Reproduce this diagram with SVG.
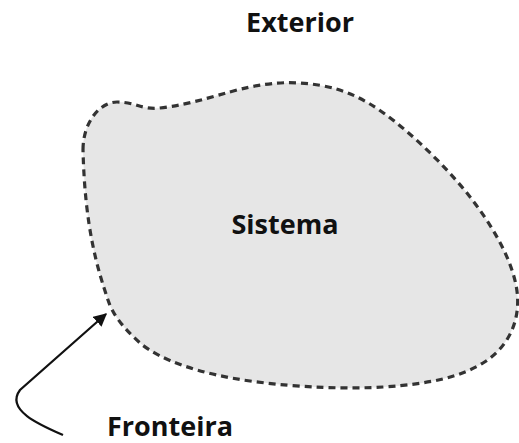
<svg xmlns="http://www.w3.org/2000/svg" width="519" height="443" viewBox="0 0 519 443">
<style>
.lbl{font-family:"Open Sans","Liberation Sans",sans-serif;font-weight:bold;font-size:27px;fill:#111}
</style>
<defs>
<marker id="ah" viewBox="0 0 10 10" refX="9" refY="5" markerWidth="6" markerHeight="6" orient="auto" markerUnits="strokeWidth">
<path d="M0,0 L10,5 L0,10 Z" fill="#111"/>
</marker>
</defs>
<rect width="519" height="443" fill="#fff"/>
<g id="sistema">
<path d="M 83,150 C 83,122 100,102 117,102 C 135,102 142,110 160,108 C 195,104 225,92 250,87 C 270,83 285,82 300,83 C 330,85 350,92 370,104 C 400,122 440,160 467,193 C 490,222 510,255 516,285 C 522,315 512,345 483,363 C 460,377 430,384 383,387 C 350,389 300,388 250,381 C 200,374 160,360 140,343 C 120,325 112,312 108,300 C 98,270 85,230 83,150 Z" fill="#e6e6e6" stroke="#333" stroke-width="3.2" stroke-dasharray="7 5"/>
<text class="lbl" x="285" y="234" text-anchor="middle">Sistema</text>
</g>
<g id="exterior">
<text class="lbl" x="300" y="32" text-anchor="middle">Exterior</text>
</g>
<g id="fronteira">
<text class="lbl" x="107" y="436">Fronteira</text>
</g>
<g id="connectors">
<path d="M 63,435 C 40,425 5,410 20,390 L 106,314" fill="none" stroke="#111" stroke-width="2.2" marker-end="url(#ah)"/>
</g>
</svg>
